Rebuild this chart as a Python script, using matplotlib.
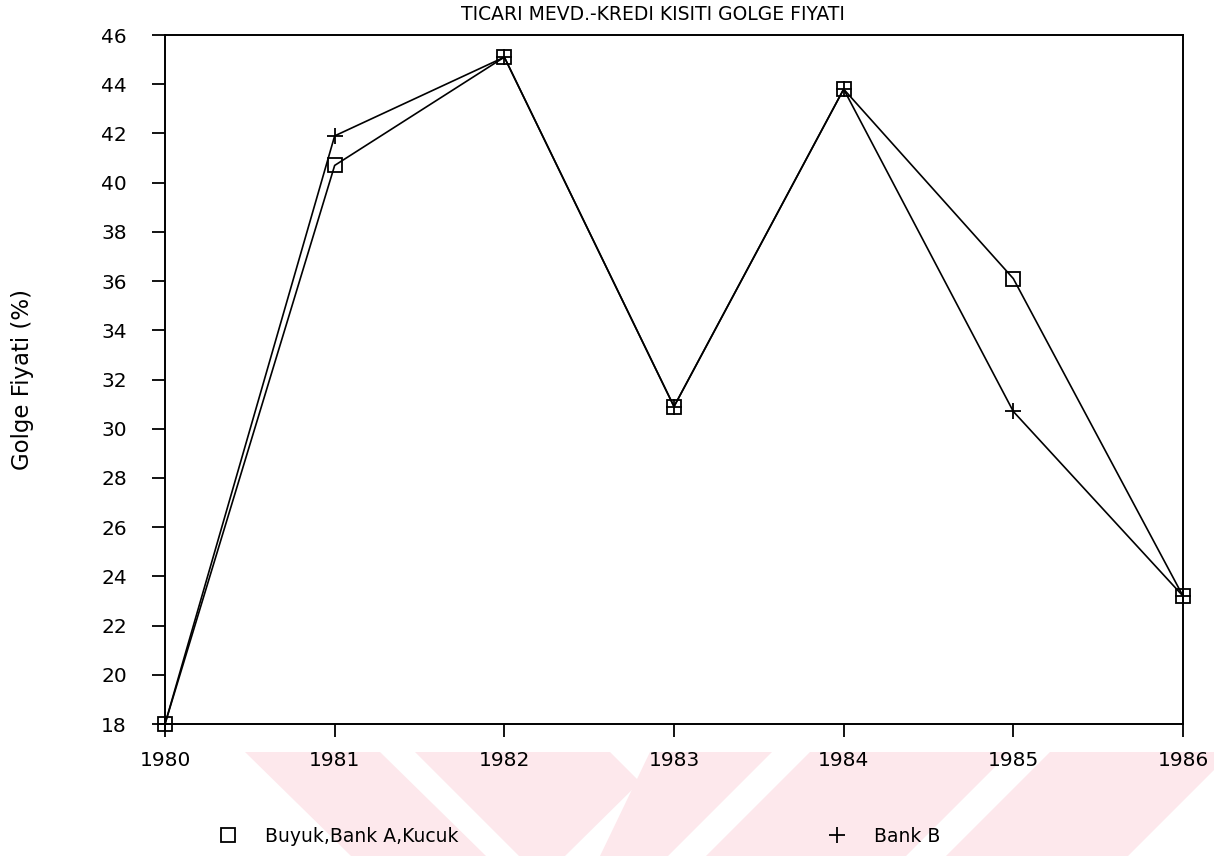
import matplotlib.pyplot as plt
from matplotlib.lines import Line2D
from matplotlib.patches import Polygon

# veriler
years = [1980, 1981, 1982, 1983, 1984, 1985, 1986]
buyuk_bank_a_kucuk = [18.0, 40.7, 45.1, 30.9, 43.8, 36.1, 23.2]
bank_b = [18.0, 41.9, 45.1, 30.9, 43.8, 30.7, 23.2]
yticks = list(range(18, 47, 2))

W, H = 1214, 856
fig = plt.figure(figsize=(W / 100, H / 100), dpi=100)
plt.rcParams['font.family'] = ['DejaVu Sans']


def px(x, y):
    # piksel -> figure kesri
    return (x / W, 1 - y / H)


# arka plandaki soluk pembe filigran seritleri
stripes = [
    [(245, 752), (380, 752), (486, 856), (351, 856)],
    [(415, 752), (610, 752), (640, 782), (565, 856), (519, 856)],
    [(650, 752), (772, 752), (668, 856), (600, 856)],
    [(810, 752), (1010, 752), (906, 856), (706, 856)],
    [(1050, 752), (1214, 752), (1214, 770), (1128, 856), (946, 856)],
]
for s in stripes:
    fig.patches.append(Polygon([px(*p) for p in s], closed=True,
                               transform=fig.transFigure, facecolor='#fde8ec',
                               edgecolor='none', zorder=-1))

ax = fig.add_axes([165 / W, 1 - 724 / H, (1183 - 165) / W, (724 - 35) / H])
ax.set_facecolor('none')

l1, = ax.plot(years, buyuk_bank_a_kucuk, color='black', lw=1.2, marker='s',
              ms=10, mfc='none', mec='black', mew=1.3, clip_on=False, zorder=3)
l2, = ax.plot(years, bank_b, color='black', lw=1.2, marker='+',
              ms=11, mec='black', mew=1.3, clip_on=False, zorder=3)

ax.set_xlim(1980, 1986)
ax.set_ylim(18, 46)
ax.set_xticks(years)
ax.set_yticks(yticks)
ax.tick_params(axis='both', direction='out', length=9.5, width=1.3,
               labelsize=14.5, color='black')
ax.tick_params(axis='y', pad=18)
ax.tick_params(axis='x', pad=10)
for sp in ax.spines.values():
    sp.set_linewidth(1.4)

fig.text(653 / W, 1 - 15 / H, 'TICARI MEVD.-KREDI KISITI GOLGE FIYATI',
         ha='center', va='center', fontsize=13.5)
fig.text(23 / W, 1 - 380 / H, 'Golge Fiyati (%)', rotation=90,
         ha='center', va='center', fontsize=16.5)

h1 = Line2D([], [], ls='none', marker='s', ms=10, mfc='none', mec='black', mew=1.3)
h2 = Line2D([], [], ls='none', marker='+', ms=11, mec='black', mew=1.3)
fig.legend([h1, h2], ['Buyuk,Bank A,Kucuk', 'Bank B'], ncol=2,
           loc='center left', bbox_to_anchor=px(218.6, 836),
           frameon=False, borderpad=0, borderaxespad=0, handlelength=1.0,
           handletextpad=1.47, columnspacing=19.7, fontsize=13.5)

fig.savefig('out.png', dpi=100)
